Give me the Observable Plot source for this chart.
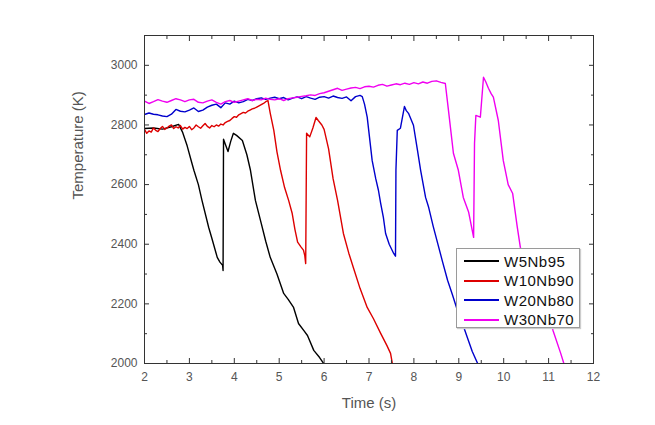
<!DOCTYPE html>
<html>
<head>
<meta charset="utf-8">
<script src="https://cdn.jsdelivr.net/npm/d3@7"></script>
<script src="https://cdn.jsdelivr.net/npm/@observablehq/plot@0.6"></script>
<style>
  body { margin: 0; background: #fff; }
  #wrap { position: relative; width: 655px; height: 425px; font-family: "Liberation Sans", Arial, sans-serif; }
  #legend { position: absolute; left: 456px; top: 248px; width: 122px; height: 78px; border: 1px solid #9a9a9a; background: #fff; box-shadow: 1px 1px 1px #ccc; }
  .row { position: absolute; left: 0; height: 20px; display: flex; align-items: center; }
  .row .ln { width: 35px; height: 2px; margin-left: 7px; margin-right: 5px; }
  .row span { font-size: 15px; letter-spacing: 0.5px; color: #111; }
</style>
</head>
<body>
<div id="wrap"></div>
<script>
// Series names and colours
const seriesNames = ["W5Nb95", "W10Nb90", "W20Nb80", "W30Nb70"];
const seriesColors = ["#000000", "#dd0000", "#0000cc", "#f000f0"];

// W5Nb95
const w5Time = [2.0, 2.2, 2.4, 2.6, 2.76, 2.85, 2.95, 3.05, 3.1, 3.2, 3.28, 3.43, 3.5, 3.62, 3.68, 3.74, 3.75, 3.76, 3.8, 3.86, 3.92, 3.98, 4.05, 4.18, 4.28, 4.36, 4.47, 4.6, 4.7, 4.8, 4.95, 5.1, 5.2, 5.32, 5.43, 5.55, 5.63, 5.77, 5.9, 5.99];
const w5Temp = [2788, 2790, 2786, 2794, 2802, 2775, 2730, 2675, 2648, 2600, 2547, 2456, 2420, 2356, 2340, 2329, 2312, 2752, 2735, 2711, 2745, 2772, 2765, 2748, 2700, 2648, 2547, 2470, 2410, 2356, 2300, 2235, 2215, 2188, 2134, 2110, 2094, 2044, 2020, 2000];

// W10Nb90
const w10Time = [2.0, 2.05, 2.1, 2.15, 2.2, 2.25, 2.3, 2.35, 2.4, 2.45, 2.5, 2.55, 2.6, 2.65, 2.7, 2.75, 2.8, 2.85, 2.9, 2.95, 3.0, 3.05, 3.1, 3.15, 3.2, 3.25, 3.3, 3.35, 3.4, 3.45, 3.5, 3.55, 3.6, 3.65, 3.7, 3.75, 3.8, 3.85, 3.9, 3.95, 4.0, 4.05, 4.1, 4.15, 4.2, 4.25, 4.3, 4.35, 4.4, 4.45, 4.5, 4.55, 4.6, 4.65, 4.7, 4.75, 4.8, 4.88, 4.95, 5.03, 5.12, 5.21, 5.29, 5.35, 5.41, 5.48, 5.54, 5.57, 5.59, 5.61, 5.68, 5.75, 5.82, 5.87, 5.95, 6.0, 6.1, 6.2, 6.3, 6.43, 6.55, 6.66, 6.8, 6.96, 7.1, 7.26, 7.4, 7.48, 7.52];
const w10Temp = [2785, 2772, 2780, 2776, 2790, 2782, 2778, 2788, 2795, 2785, 2790, 2796, 2800, 2788, 2794, 2790, 2798, 2786, 2792, 2788, 2795, 2784, 2790, 2800, 2794, 2789, 2797, 2805, 2795, 2790, 2798, 2794, 2800, 2796, 2803, 2800, 2808, 2812, 2815, 2822, 2828, 2826, 2834, 2838, 2842, 2840, 2846, 2850, 2854, 2856, 2860, 2864, 2868, 2872, 2878, 2882, 2840, 2782, 2710, 2648, 2590, 2547, 2503, 2450, 2407, 2392, 2380, 2362, 2335, 2772, 2760, 2790, 2825, 2815, 2800, 2785, 2720, 2620, 2547, 2436, 2370, 2318, 2252, 2188, 2150, 2101, 2060, 2034, 2000];

// W20Nb80
const w20Time = [2.0, 2.1, 2.2, 2.3, 2.4, 2.5, 2.6, 2.7, 2.8, 2.9, 3.0, 3.1, 3.2, 3.3, 3.4, 3.5, 3.6, 3.7, 3.8, 3.9, 4.0, 4.1, 4.2, 4.3, 4.4, 4.5, 4.6, 4.7, 4.8, 4.9, 5.0, 5.1, 5.2, 5.3, 5.4, 5.5, 5.6, 5.7, 5.8, 5.9, 6.0, 6.1, 6.2, 6.3, 6.4, 6.5, 6.6, 6.7, 6.8, 6.85, 6.9, 6.96, 7.07, 7.15, 7.21, 7.26, 7.32, 7.37, 7.45, 7.55, 7.59, 7.6, 7.63, 7.7, 7.79, 7.83, 7.88, 7.99, 8.08, 8.15, 8.26, 8.33, 8.43, 8.53, 8.64, 8.75, 8.86, 8.97, 9.08, 9.19, 9.3, 9.42];
const w20Temp = [2835, 2840, 2836, 2834, 2830, 2828, 2836, 2852, 2846, 2844, 2850, 2857, 2845, 2850, 2860, 2866, 2870, 2858, 2874, 2870, 2880, 2874, 2878, 2886, 2882, 2888, 2891, 2886, 2890, 2893, 2888, 2892, 2884, 2890, 2894, 2888, 2895, 2890, 2886, 2893, 2895, 2890, 2897, 2892, 2889, 2894, 2881, 2895, 2899, 2895, 2870, 2826, 2681, 2620, 2581, 2537, 2490, 2436, 2400, 2369, 2360, 2648, 2782, 2789, 2862, 2848, 2839, 2799, 2715, 2648, 2557, 2523, 2460, 2403, 2340, 2279, 2230, 2178, 2135, 2087, 2040, 2000];

// W30Nb70
const w30Time = [2.0, 2.1, 2.2, 2.3, 2.4, 2.5, 2.6, 2.7, 2.8, 2.9, 3.0, 3.1, 3.2, 3.3, 3.4, 3.5, 3.6, 3.7, 3.8, 3.9, 4.0, 4.1, 4.2, 4.3, 4.4, 4.5, 4.6, 4.7, 4.8, 4.9, 5.0, 5.1, 5.2, 5.3, 5.4, 5.5, 5.6, 5.7, 5.8, 5.9, 6.0, 6.1, 6.2, 6.3, 6.4, 6.5, 6.6, 6.7, 6.8, 6.9, 7.0, 7.1, 7.2, 7.3, 7.4, 7.5, 7.6, 7.7, 7.8, 7.9, 8.0, 8.1, 8.2, 8.3, 8.4, 8.5, 8.6, 8.7, 8.77, 8.88, 8.99, 9.1, 9.22, 9.33, 9.35, 9.38, 9.48, 9.55, 9.6, 9.66, 9.72, 9.77, 9.88, 9.99, 10.1, 10.2, 10.3, 10.37, 10.5, 10.67, 10.8, 10.98, 11.1, 11.27, 11.34];
const w30Temp = [2880, 2872, 2878, 2885, 2880, 2876, 2882, 2888, 2884, 2878, 2884, 2886, 2876, 2874, 2880, 2884, 2876, 2870, 2878, 2882, 2876, 2880, 2884, 2888, 2882, 2886, 2884, 2890, 2886, 2884, 2888, 2882, 2888, 2891, 2893, 2896, 2898, 2901, 2899, 2905, 2908, 2913, 2918, 2923, 2916, 2920, 2924, 2926, 2922, 2928, 2930, 2927, 2933, 2936, 2930, 2934, 2938, 2935, 2940, 2936, 2942, 2938, 2944, 2940, 2946, 2948, 2943, 2939, 2849, 2705, 2648, 2557, 2507, 2423, 2738, 2832, 2826, 2960, 2945, 2923, 2905, 2893, 2815, 2681, 2600, 2570, 2460, 2390, 2330, 2279, 2230, 2178, 2110, 2034, 2000];

// Tick values
const xMajor = [2, 3, 4, 5, 6, 7, 8, 9, 10, 11, 12];
const xMinor = [2.5, 3.5, 4.5, 5.5, 6.5, 7.5, 8.5, 9.5, 10.5, 11.5];
const yMajor = [2000, 2200, 2400, 2600, 2800, 3000];
const yMinor = [2100, 2300, 2500, 2700, 2900, 3100];

const allTimes = [w5Time, w10Time, w20Time, w30Time];
const allTemps = [w5Temp, w10Temp, w20Temp, w30Temp];
const rows = seriesNames.map((name, i) => allTimes[i].map((t, j) => ({series: name, t, T: allTemps[i][j]})));

const chart = Plot.plot({
  width: 655,
  height: 425,
  marginLeft: 144,
  marginRight: 62,
  marginTop: 35,
  marginBottom: 62,
  style: {fontFamily: "Liberation Sans, Arial, sans-serif", background: "#fff", color: "#555"},
  x: {domain: [2, 12]},
  y: {domain: [2000, 3100]},
  marks: [
    ...rows.map((r, i) => Plot.line(r, {x: "t", y: "T", stroke: seriesColors[i], strokeWidth: 1.4, clip: true})),
    Plot.frame({stroke: "#333"}),
    Plot.axisX({anchor: "bottom", ticks: xMajor, tickSize: -5, tickPadding: 14, tickFormat: d => String(d), label: null, stroke: "#333", fill: "#555", fontSize: 12, style: {letterSpacing: "1px"}}),
    Plot.axisX({anchor: "bottom", ticks: xMinor, tickSize: -3, text: null, label: null, stroke: "#333"}),
    Plot.axisX({anchor: "top", ticks: xMajor, tickSize: -5, text: null, label: null, stroke: "#333"}),
    Plot.axisX({anchor: "top", ticks: xMinor, tickSize: -3, text: null, label: null, stroke: "#333"}),
    Plot.axisY({anchor: "left", ticks: yMajor, tickSize: -5, tickPadding: 12, tickFormat: d => String(d), label: null, stroke: "#333", fill: "#555", fontSize: 12, style: {letterSpacing: "1px"}}),
    Plot.axisY({anchor: "left", ticks: yMinor, tickSize: -3, text: null, label: null, stroke: "#333"}),
    Plot.axisY({anchor: "right", ticks: yMajor, tickSize: -5, text: null, label: null, stroke: "#333"}),
    Plot.axisY({anchor: "right", ticks: yMinor, tickSize: -3, text: null, label: null, stroke: "#333"}),
    Plot.text(["Time (s)"], {frameAnchor: "bottom", dy: 44, fontSize: 15, fill: "#555", style: {letterSpacing: "1px"}}),
    Plot.text(["Temperature (K)"], {frameAnchor: "left", dx: -66, rotate: -90, fontSize: 15, fill: "#555", style: {letterSpacing: "0.5px"}})
  ]
});

const wrap = document.getElementById("wrap");
wrap.appendChild(chart);

const legend = document.createElement("div");
legend.id = "legend";
seriesNames.forEach((name, i) => {
  const row = document.createElement("div");
  row.className = "row";
  row.style.top = (2 + i * 19.5) + "px";
  const ln = document.createElement("div");
  ln.className = "ln";
  ln.style.background = seriesColors[i];
  const sp = document.createElement("span");
  sp.textContent = name;
  row.appendChild(ln);
  row.appendChild(sp);
  legend.appendChild(row);
});
wrap.appendChild(legend);
</script>
</body>
</html>
